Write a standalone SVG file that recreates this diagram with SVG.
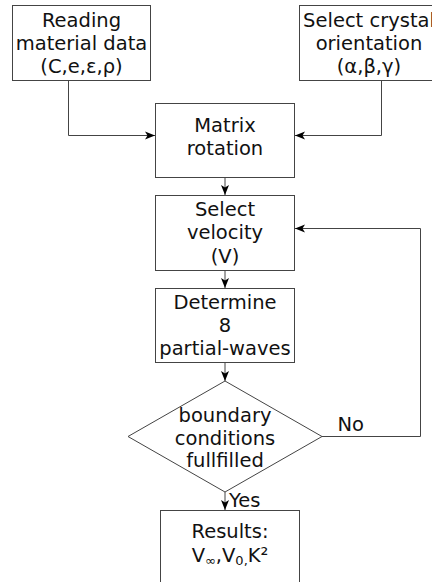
<svg xmlns="http://www.w3.org/2000/svg" width="432" height="582" viewBox="0 0 432 582">
<style>
.box{fill:#fff;stroke:#444;stroke-width:1}
.t{font-family:"DejaVu Sans",sans-serif;font-size:19.5px;fill:#111;text-anchor:middle}
.lbl{font-family:"DejaVu Sans",sans-serif;font-size:19.5px;fill:#111}
.c{fill:none;stroke:#444;stroke-width:1}
</style>
<defs>
<marker id="ah" markerWidth="12" markerHeight="10" refX="10" refY="4.5" orient="auto" markerUnits="userSpaceOnUse">
<path d="M0,0.5 L10,4.5 L0,8.5 L2.5,4.5 Z" fill="#000"/>
</marker>
</defs>
<rect width="432" height="582" fill="#fff"/>
<g id="connectors">
<path class="c" d="M68.5,80 V135.5 H155" marker-end="url(#ah)"/>
<path class="c" d="M381.5,80 V135.5 H295" marker-end="url(#ah)"/>
<path class="c" d="M225,177 V195" marker-end="url(#ah)"/>
<path class="c" d="M225,270 V288" marker-end="url(#ah)"/>
<path class="c" d="M225,363 V381" marker-end="url(#ah)"/>
<path class="c" d="M322,436.5 H420.5 V228.5 H295" marker-end="url(#ah)"/>
<path class="c" d="M225,492 V510" marker-end="url(#ah)"/>
</g>
<g id="n1">
<rect class="box" x="12.5" y="5.5" width="138" height="75"/>
<text class="t" x="81.5" y="26.5">Reading</text>
<text class="t" x="81.5" y="49.5">material data</text>
<text class="t" x="81.5" y="72.5">(C,e,ε,ρ)</text>
</g>
<g id="n2">
<rect class="box" x="299.5" y="5.5" width="139" height="75"/>
<text class="t" x="369" y="26.5">Select crystal</text>
<text class="t" x="369" y="49.5">orientation</text>
<text class="t" x="369" y="72.5">(α,β,γ)</text>
</g>
<g id="n3">
<rect class="box" x="155.5" y="103.5" width="139" height="74"/>
<text class="t" x="225" y="131.5">Matrix</text>
<text class="t" x="225" y="155">rotation</text>
</g>
<g id="n4">
<rect class="box" x="155.5" y="195.5" width="139" height="75"/>
<text class="t" x="225" y="215.5">Select</text>
<text class="t" x="225" y="239">velocity</text>
<text class="t" x="225" y="262.5">(V)</text>
</g>
<g id="n5">
<rect class="box" x="155.5" y="288.5" width="139" height="74"/>
<text class="t" x="225" y="308.5">Determine</text>
<text class="t" x="225" y="331.5">8</text>
<text class="t" x="225" y="355">partial-waves</text>
</g>
<g id="n6">
<polygon class="box" points="225,381 322,436.5 225,492 128,436.5"/>
<text class="t" x="225" y="421.5">boundary</text>
<text class="t" x="225" y="444.5">conditions</text>
<text class="t" x="225" y="467">fullfilled</text>
</g>
<g id="n7">
<rect class="box" x="160.5" y="510.5" width="139" height="90"/>
<text class="t" x="230" y="538">Results:</text>
<text class="t" x="230" y="561.5">V<tspan font-size="13" dy="3">∞</tspan><tspan dy="-3">,V</tspan><tspan font-size="13" dy="3">0,</tspan><tspan dy="-3">K²</tspan></text>
</g>
<text class="lbl" x="337.5" y="431">No</text>
<text class="lbl" x="229" y="506.5">Yes</text>
</svg>
